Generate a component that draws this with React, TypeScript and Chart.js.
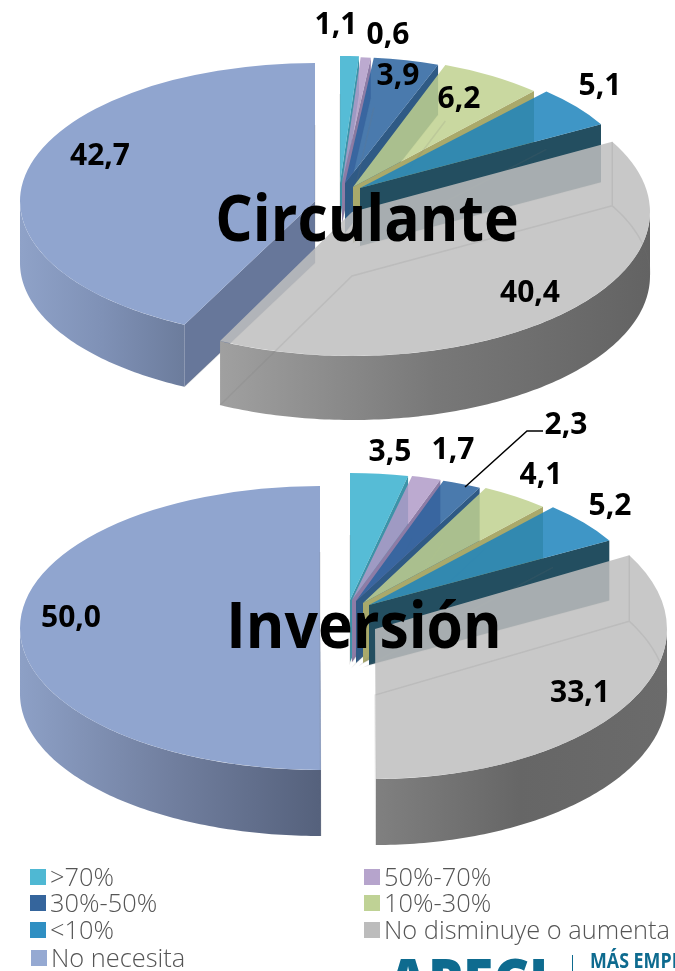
import React, { useEffect, useRef } from "react";
import { Chart, registerables } from "chart.js";

Chart.register(...registerables);

// ---- data ----
const categories = [">70%", "50%-70%", "30%-50%", "10%-30%", "<10%", "No disminuye o aumenta", "No necesita"];
const circulanteValues = [1.1, 0.6, 3.9, 6.2, 5.1, 40.4, 42.7];
const inversionValues = [3.5, 1.7, 2.3, 4.1, 5.2, 33.1, 50.0];

// ---- styles ----
const FONT = '"Open Sans", "Noto Sans", sans-serif';
const topColors = [
  "rgba(56,176,207,0.85)",
  "rgba(176,155,200,0.85)",
  "rgba(42,99,159,0.85)",
  "rgba(192,209,143,0.85)",
  "rgba(29,132,188,0.85)",
  "rgba(190,190,190,0.85)",
  "rgb(144,165,207)",
];
const swatchColors = ["#4fb8d3", "#b6a4cc", "#35659c", "#bfd295", "#2f8fc2", "#bcbcbc", "#95a9d2"];
const cutWallColors = ["#3c93a8", "#8d7ca6", "#2f5a85", "#a9a96b", "#234e60", "#8c8c8c", "#67779a"];

type Layout = { cx: number; cy: number; a: number; b: number; d: number };

// per-slice explode geometry (ellipse placement of each wedge)
const circulanteLayout: Layout[] = [
  { cx: 340, cy: 183, a: 275, b: 127, d: 38 },
  { cx: 342, cy: 183, a: 270, b: 126, d: 40 },
  { cx: 345, cy: 183, a: 270, b: 126, d: 50 },
  { cx: 353, cy: 187, a: 268, b: 130, d: 56 },
  { cx: 360, cy: 188, a: 276, b: 131, d: 58 },
  { cx: 352, cy: 212, a: 298, b: 144, d: 64 },
  { cx: 315, cy: 201, a: 295, b: 138, d: 62 },
];
const inversionLayout: Layout[] = [
  { cx: 350, cy: 195, a: 266, b: 127, d: 62 },
  { cx: 352, cy: 195, a: 275, b: 127, d: 62 },
  { cx: 356, cy: 196, a: 272, b: 127, d: 62 },
  { cx: 363, cy: 198, a: 270, b: 129, d: 60 },
  { cx: 369, cy: 200, a: 276, b: 131, d: 60 },
  { cx: 375, cy: 224, a: 292, b: 150, d: 66 },
  { cx: 320, cy: 223, a: 300, b: 142, d: 66 },
];

const circulanteWalls: Record<number, string[]> = {
  5: ["#a0a0a0", "#787878", "#636363"],
  6: ["#8fa2c8", "#7f91b6", "#6c7c9c"],
};
const inversionWalls: Record<number, string[]> = {
  5: ["#808080", "#666666", "#6b6b6b"],
  6: ["#8da0c6", "#717f9f", "#55617c"],
};

const circulanteLabelPos = [
  [336, 25], [388, 35], [398, 76], [459, 99], [600, 86], [530, 293], [100, 156],
];
const inversionLabelPos = [
  [390, 47], [453, 45], [566, 20], [541, 70], [610, 101], [580, 288], [71, 213],
];

const drawOrder = [6, 0, 1, 2, 3, 4, 5];

function pieChart(
  canvas: HTMLCanvasElement,
  values: number[],
  layout: Layout[],
  walls: Record<number, string[]>,
  labelPos: number[][],
  title: string,
  titlePos: number[],
  leader: number[][] | null
) {
  const plugin = {
    id: "pie3d",
    beforeDatasetsDraw(chart: any) {
      const ctx = chart.ctx as CanvasRenderingContext2D;
      const arcs = chart.getDatasetMeta(0).data as any[];
      for (const i of drawOrder) {
        const arc = arcs[i];
        const L = layout[i];
        const R = arc.outerRadius;
        const s = arc.startAngle;
        const e = arc.endAngle;
        const px = (t: number) => L.cx + Math.cos(t) * L.a;
        const py = (t: number) => L.cy + Math.sin(t) * L.b;

        // cut wall that faces the viewer
        const quad = (t: number) => {
          ctx.beginPath();
          ctx.moveTo(L.cx, L.cy);
          ctx.lineTo(px(t), py(t));
          ctx.lineTo(px(t), py(t) + L.d);
          ctx.lineTo(L.cx, L.cy + L.d);
          ctx.closePath();
          ctx.fillStyle = cutWallColors[i];
          ctx.fill();
        };
        if (i === 6) quad(s);
        else if (i !== 5) quad(e);

        // outer wall: only the part in the front half of the ellipse
        const t0 = Math.max(s, 0);
        const t1 = Math.min(e, Math.PI);
        if (t1 > t0) {
          const n = Math.ceil((t1 - t0) * 60);
          ctx.beginPath();
          for (let k = 0; k <= n; k++) {
            const t = t0 + ((t1 - t0) * k) / n;
            if (k === 0) ctx.moveTo(px(t), py(t));
            else ctx.lineTo(px(t), py(t));
          }
          for (let k = n; k >= 0; k--) {
            const t = t0 + ((t1 - t0) * k) / n;
            ctx.lineTo(px(t), py(t) + L.d);
          }
          ctx.closePath();
          const xa = Math.min(px(t0), px(t1));
          const xb = Math.max(px(t0), px(t1), i === 5 ? L.cx + L.a : -1e9);
          const xl = i === 6 ? L.cx - L.a : xa;
          const g = ctx.createLinearGradient(xl, 0, xb, 0);
          const stops = walls[i] || [cutWallColors[i], cutWallColors[i], cutWallColors[i]];
          g.addColorStop(0, stops[0]);
          g.addColorStop(0.5, stops[1]);
          g.addColorStop(1, stops[2]);
          ctx.fillStyle = g;
          ctx.fill();
        }

        // top face: the library's own arc element, placed on its ellipse
        ctx.save();
        ctx.translate(L.cx, L.cy);
        ctx.scale(L.a / R, L.b / R);
        ctx.translate(-arc.x, -arc.y);
        arc.draw(ctx);
        ctx.restore();

        // faint see-through floor edges
        ctx.beginPath();
        ctx.moveTo(px(e), py(e) + L.d);
        ctx.lineTo(L.cx, L.cy + L.d);
        ctx.lineTo(px(s), py(s) + L.d);
        if (i === 5) {
          ctx.moveTo(px(s), py(s));
          ctx.lineTo(px(s), py(s) + L.d);
          for (let t = s; t < 0; t += 0.02) ctx.lineTo(px(t), py(t) + L.d);
        }
        ctx.strokeStyle = "rgba(110,110,110,0.14)";
        ctx.lineWidth = 1.5;
        ctx.stroke();
      }
      return false;
    },
    afterDraw(chart: any) {
      const ctx = chart.ctx as CanvasRenderingContext2D;
      ctx.save();
      ctx.textAlign = "center";
      ctx.textBaseline = "middle";
      ctx.fillStyle = "#000";
      if (leader) {
        ctx.beginPath();
        leader.forEach((p, k) => (k ? ctx.lineTo(p[0], p[1]) : ctx.moveTo(p[0], p[1])));
        ctx.strokeStyle = "#000";
        ctx.lineWidth = 1.5;
        ctx.stroke();
      }
      ctx.font = `700 30px ${FONT}`;
      values.forEach((v, i) => {
        ctx.fillText(v.toFixed(1).replace(".", ","), labelPos[i][0], labelPos[i][1]);
      });
      ctx.font = `700 65px ${FONT}`;
      ctx.translate(titlePos[0], titlePos[1]);
      ctx.scale(0.905, 1);
      ctx.fillText(title, 0, 0);
      ctx.restore();
    },
  };
  return new Chart(canvas, {
    type: "pie",
    data: {
      labels: categories,
      datasets: [{ data: values, backgroundColor: topColors, borderWidth: 0, hoverOffset: 0 }],
    },
    options: {
      responsive: false,
      animation: false,
      plugins: { legend: { display: false }, tooltip: { enabled: false } },
    },
    plugins: [plugin],
  } as any);
}

const legendCells = [
  { idx: 0, x: 30, y: 877 },
  { idx: 1, x: 364, y: 877 },
  { idx: 2, x: 30, y: 903 },
  { idx: 3, x: 364, y: 903 },
  { idx: 4, x: 30, y: 930 },
  { idx: 5, x: 364, y: 930 },
  { idx: 6, x: 31, y: 958 },
];

export default function App() {
  const a = useRef<HTMLCanvasElement>(null);
  const b = useRef<HTMLCanvasElement>(null);
  useEffect(() => {
    document.body.style.margin = "0";
    const c1 = pieChart(a.current!, circulanteValues, circulanteLayout, circulanteWalls, circulanteLabelPos, "Circulante", [367, 222], null);
    const c2 = pieChart(
      b.current!, inversionValues, inversionLayout, inversionWalls, inversionLabelPos, "Inversión", [364, 224],
      [[465, 82], [527, 26], [543, 26]]
    );
    return () => {
      c1.destroy();
      c2.destroy();
    };
  }, []);
  return (
    <div style={{ position: "relative", width: 675, height: 971, overflow: "hidden", background: "#fff", fontFamily: FONT }}>
      <canvas ref={a} width={675} height={430} style={{ position: "absolute", left: 0, top: 0 }} />
      <canvas ref={b} width={675} height={460} style={{ position: "absolute", left: 0, top: 405 }} />
      {legendCells.map((c) => (
        <React.Fragment key={c.idx}>
          <div style={{ position: "absolute", left: c.x, top: c.y - 8, width: 16, height: 16, background: swatchColors[c.idx] }} />
          <div style={{ position: "absolute", left: c.x + 20, top: c.y - 19, fontSize: 25.4, lineHeight: "36px", fontWeight: 300, color: "#555", whiteSpace: "nowrap" }}>
            {categories[c.idx]}
          </div>
        </React.Fragment>
      ))}
      <div style={{ position: "absolute", left: 388, top: 944, fontSize: 60, lineHeight: "70px", fontWeight: 800, color: "#0e6b8f", whiteSpace: "nowrap", transform: "scaleX(0.92)", transformOrigin: "left top" }}>APECI</div>
      <div style={{ position: "absolute", left: 572, top: 955, width: 1, height: 16, background: "#0e6b8f" }} />
      <div style={{ position: "absolute", left: 590, top: 945, fontSize: 21, lineHeight: "30px", fontWeight: 700, color: "#0e6b8f", whiteSpace: "nowrap", transform: "scaleX(0.85)", transformOrigin: "left top" }}>MÁS EMPRESA</div>
    </div>
  );
}
